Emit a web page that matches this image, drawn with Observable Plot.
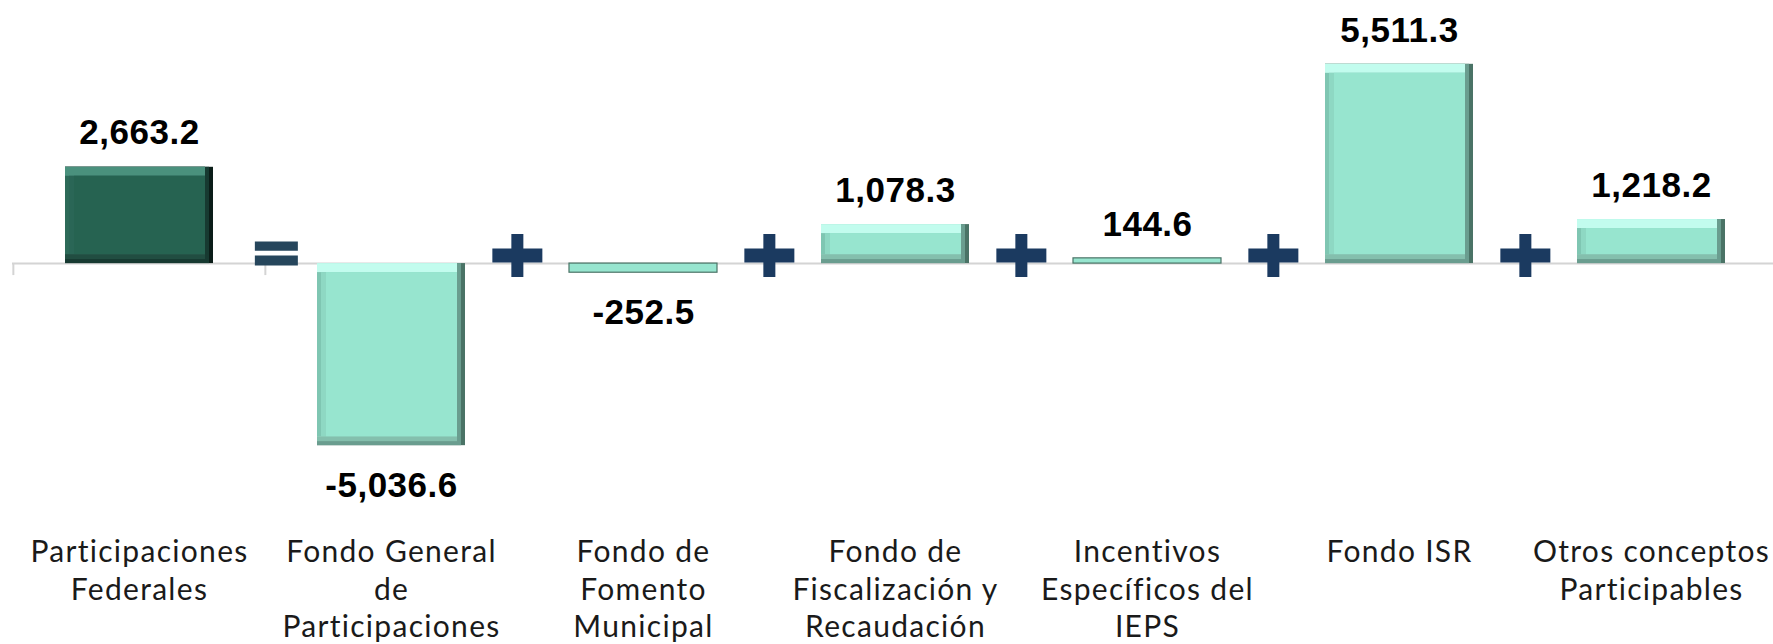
<!DOCTYPE html>
<html>
<head>
<meta charset="utf-8">
<script src="https://cdn.jsdelivr.net/npm/d3@7"></script>
<script src="https://cdn.jsdelivr.net/npm/@observablehq/plot@0.6"></script>
<style>
  html, body { margin: 0; padding: 0; background: #ffffff; }
  #chart svg { display: block; }
  .catlabel text { letter-spacing: 1.3px; }
  .vallabel text { letter-spacing: 0.5px; }
</style>
</head>
<body>
<div id="chart"></div>
<script>
// ---- data ----
const categories = [
  "Participaciones\nFederales",
  "Fondo General\nde\nParticipaciones",
  "Fondo de\nFomento\nMunicipal",
  "Fondo de\nFiscalización y\nRecaudación",
  "Incentivos\nEspecíficos del\nIEPS",
  "Fondo ISR",
  "Otros conceptos\nParticipables"
];
const values = [2663.2, -5036.6, -252.5, 1078.3, 144.6, 5511.3, 1218.2];
const kinds = ["total", "part", "part", "part", "part", "part", "part"];
const operators = ["=", "+", "+", "+", "+", "+"]; // between consecutive categories

// ---- layout / style ----
const W = 1773, H = 644;
const mLeft = 12, mRight = -5, mTop = 10, mBottom = 164;
const yDomain = [-6000, 7000];
const step = (W - mLeft - mRight) / categories.length;
const pxPerUnit = (H - mTop - mBottom) / (yDomain[1] - yDomain[0]);
const tickUnits = 12 / pxPerUnit;

const data = categories.map((c, i) => ({cat: c, value: values[i], kind: kinds[i]}));
const ops = operators.map((o, i) => ({op: o, cat: categories[i + 1]}));

const palette = {
  total: {e1: "#0b1d18", e2: "#173a31", b: "#214d41", t: "#4a917d", l: "#2d6a58", l2: "#2a6656", face: "#266351"},
  part:  {e1: "#4a7366", e2: "#6a9d8f", b: "#84bfad", t: "#c2fcee", l: "#7fc6b2", l2: "#8ed8c3", face: "#97e5cf"}
};
const col = key => d => palette[d.kind][key];
const big = data.filter(d => Math.abs(d.value) * pxPerUnit > 24);
const small = data.filter(d => Math.abs(d.value) * pxPerUnit <= 24);

const fmt = d3.formatLocale({decimal: ".", thousands: ",", grouping: [3], currency: ["$", ""], minus: "-"}).format(",.1f");

// custom operator symbols
const plusSymbol = {
  draw(ctx, size) {
    const r = Math.sqrt(size / Math.PI);
    const hw = r, hh = r * 0.86, th = r * 0.28, tv = r * 0.24;
    ctx.moveTo(-tv, -hh); ctx.lineTo(tv, -hh); ctx.lineTo(tv, -th);
    ctx.lineTo(hw, -th); ctx.lineTo(hw, th); ctx.lineTo(tv, th);
    ctx.lineTo(tv, hh); ctx.lineTo(-tv, hh); ctx.lineTo(-tv, th);
    ctx.lineTo(-hw, th); ctx.lineTo(-hw, -th); ctx.lineTo(-tv, -th);
    ctx.closePath();
  }
};
const equalsSymbol = {
  draw(ctx, size) {
    const r = Math.sqrt(size / Math.PI);
    const hw = r * 0.86;
    ctx.rect(-hw, -0.48 * r, 2 * hw, 0.37 * r);
    ctx.rect(-hw, 0.08 * r, 2 * hw, 0.40 * r);
  }
};

const valueFont = "'Liberation Sans', Arial, sans-serif";
const catFont = "Lato, 'Open Sans', sans-serif";

const bar = (fillKey, insets) => Plot.barY(big, {x: "cat", y: "value", fill: col(fillKey), ...insets});

const chart = Plot.plot({
  width: W,
  height: H,
  marginLeft: mLeft,
  marginRight: mRight,
  marginTop: mTop,
  marginBottom: mBottom,
  style: {background: "#ffffff", overflow: "visible"},
  x: {domain: categories, axis: null, paddingInner: 0.413, paddingOuter: 0.2065},
  y: {domain: yDomain, axis: null},
  marks: [
    // axis line and boundary ticks
    Plot.ruleY([0], {stroke: "#d4d4d4", strokeWidth: 2}),
    Plot.ruleX(categories, {x: d => d, dx: -step / 2, y1: 0, y2: -tickUnits, stroke: "#d4d4d4", strokeWidth: 2}),
    // bevelled big bars (layered frames)
    bar("e1", {}),
    bar("e2", {insetRight: 4}),
    bar("b", {insetRight: 8, insetBottom: 4}),
    bar("t", {insetRight: 8, insetBottom: 9}),
    bar("l", {insetRight: 8, insetBottom: 9, insetTop: 9}),
    bar("l2", {insetLeft: 4, insetRight: 8, insetBottom: 9, insetTop: 9}),
    bar("face", {insetLeft: 9, insetRight: 8, insetBottom: 9, insetTop: 9}),
    // thin bars
    Plot.barY(small, {x: "cat", y: "value", fill: col("face"), stroke: col("e1"), strokeWidth: 1.2}),
    // value labels
    Plot.text(data.filter(d => d.value >= 0), {x: "cat", y: "value", text: d => fmt(d.value), dy: -34,
      fontSize: 35, fontWeight: "bold", fontFamily: valueFont, fill: "#000000", className: "vallabel"}),
    Plot.text(data.filter(d => d.value < 0), {x: "cat", y: "value", text: d => fmt(d.value), dy: 40,
      fontSize: 35, fontWeight: "bold", fontFamily: valueFont, fill: "#000000", className: "vallabel"}),
    // operators
    Plot.dot(ops.filter(d => d.op === "+"), {x: "cat", y: 0, dx: -step / 2, dy: -8, r: 25, symbol: plusSymbol, fill: "#1b3a60", stroke: "none"}),
    Plot.dot(ops.filter(d => d.op === "="), {x: "cat", y: 0, dx: -step / 2 + 11, dy: -10, r: 25, symbol: equalsSymbol, fill: "#26465c", stroke: "none"}),
    // category labels
    Plot.text(categories, {x: d => d, text: d => d, frameAnchor: "bottom", lineAnchor: "top", dy: 55,
      fontSize: 30, lineHeight: 1.25, fontFamily: catFont, fill: "#1a1a1a", className: "catlabel"})
  ]
});
document.getElementById("chart").appendChild(chart);
</script>
</body>
</html>
